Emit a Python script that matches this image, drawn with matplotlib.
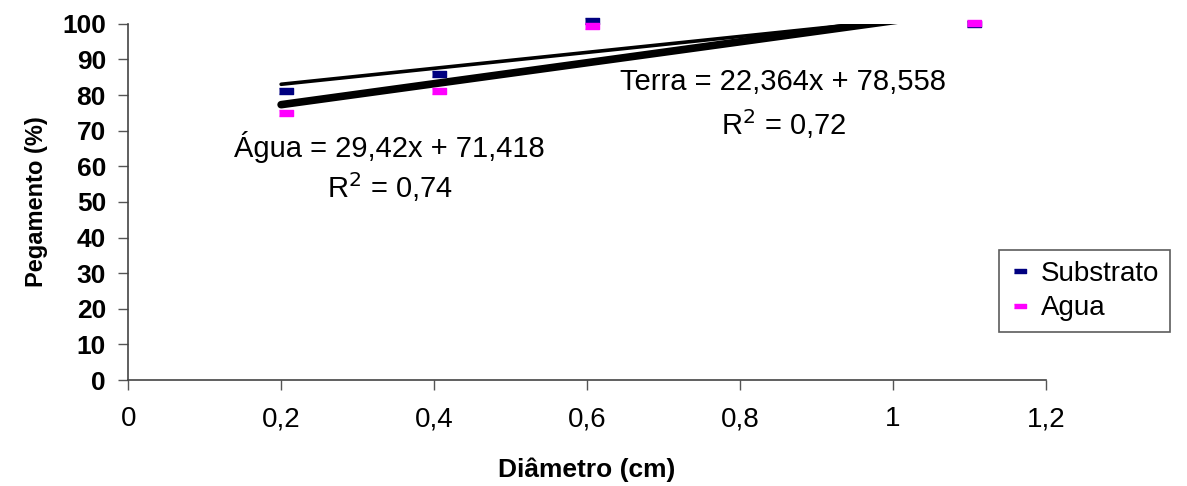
import matplotlib
matplotlib.use('Agg')
import matplotlib.pyplot as plt
import numpy as np

plt.rcParams['font.family'] = ['Liberation Sans', 'DejaVu Sans']

# diameter of the cuttings (cm) and rooting (%)
diametro = [0.2, 0.4, 0.6, 1.1]
substrato = [81, 86, 100.8, 100]
agua = [75, 81, 99.5, 100.3]

# fitted trend lines (slope, intercept, r2)
terra_fit = (22.364, 78.558, 0.72)
agua_fit = (29.42, 71.418, 0.74)

x_ticks = [0, 0.2, 0.4, 0.6, 0.8, 1, 1.2]
x_labels = ['0', '0,2', '0,4', '0,6', '0,8', '1', '1,2']
y_ticks = list(range(0, 101, 10))

rect = [(-1, -0.42), (1, -0.42), (1, 0.42), (-1, 0.42)]

fig = plt.figure(figsize=(11.87, 4.86), dpi=100)
ax = fig.add_axes([0.108, 0.218, 0.773, 0.733])

xl = np.array([0.2, 1.1])
ax.plot(xl, terra_fit[0] * xl + terra_fit[1], color='black', lw=2.6, solid_capstyle='round')
ax.plot(xl, agua_fit[0] * xl + agua_fit[1], color='black', lw=5.5, solid_capstyle='round')

ax.plot(np.array(diametro) + 0.006, substrato, ls='none', marker=rect, ms=10, color='#000080',
        mec='#000080', label='Substrato', clip_on=False, zorder=3)
ax.plot(np.array(diametro) + 0.006, agua, ls='none', marker=rect, ms=10, color='#ff00ff',
        mec='#ff00ff', label='Agua', clip_on=False, zorder=3)

ax.text(0.342, 65.5, 'Água = 29,42x + 71,418', fontsize=21, ha='center', va='center')
ax.text(0.342, 54.3, 'R$^2$ = 0,74', fontsize=21, ha='center', va='center')
ax.text(0.857, 83.6, 'Terra = 22,364x + 78,558', fontsize=21, ha='center', va='center')
ax.text(0.857, 71.8, 'R$^2$ = 0,72', fontsize=21, ha='center', va='center')

ax.set_xlim(0, 1.2)
ax.set_ylim(0, 100)
ax.set_xticks(x_ticks)
ax.set_xticklabels(x_labels, fontsize=20)
ax.set_yticks(y_ticks)
ax.set_yticklabels([str(v) for v in y_ticks], fontsize=19, fontweight='bold')
ax.tick_params(axis='x', length=7, width=1, color='#555555', pad=12)
ax.tick_params(axis='y', length=7, width=1, color='#555555', pad=9)

for s in ['top', 'right']:
    ax.spines[s].set_visible(False)
for s in ['left', 'bottom']:
    ax.spines[s].set_color('#444444')
    ax.spines[s].set_linewidth(1.2)

ax.set_xlabel('Diâmetro (cm)', fontsize=19, fontweight='bold', labelpad=18)
ax.set_ylabel('Pegamento (%)', fontsize=17, fontweight='bold', labelpad=10)

leg = ax.legend(loc='upper left', bbox_to_anchor=(985 / 1187, 1 - 236 / 486),
                bbox_transform=fig.transFigure, fontsize=20, frameon=True,
                fancybox=False, edgecolor='#333333', handlelength=0.7,
                handletextpad=0.4, borderpad=0.4, labelspacing=0.3, markerscale=0.8)
leg.get_frame().set_linewidth(1.2)

fig.savefig('out.png', dpi=100)
